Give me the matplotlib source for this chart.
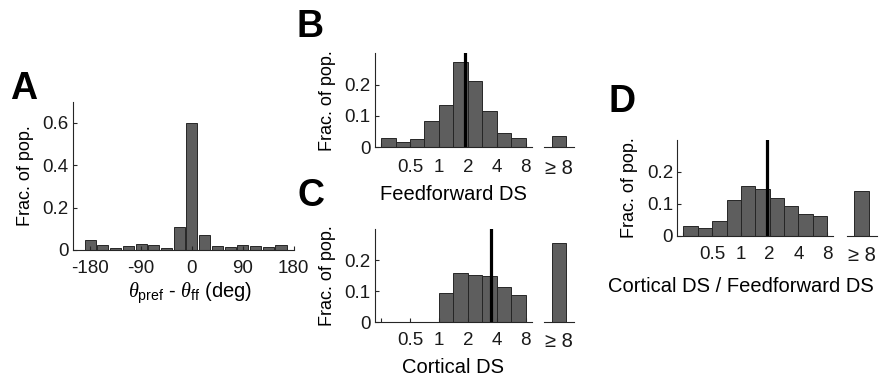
import numpy as np
import matplotlib
matplotlib.use("Agg")
import matplotlib.pyplot as plt

plt.rcParams['font.family'] = ['Liberation Sans', 'DejaVu Sans']
plt.rcParams['axes.unicode_minus'] = False
plt.rcParams['mathtext.fontset'] = 'custom'
plt.rcParams['mathtext.it'] = 'Liberation Serif:italic'
plt.rcParams['mathtext.rm'] = 'Liberation Sans'

# --- данные ---
# A: разница предпочитаемых направлений, 16 бинов по 22.5 град
theta_centers = [-180, -157.5, -135, -112.5, -90, -67.5, -45, -22.5,
                 0, 22.5, 45, 67.5, 90, 112.5, 135, 157.5]
theta_frac = [0.048, 0.022, 0.008, 0.017, 0.029, 0.023, 0.011, 0.110,
              0.600, 0.072, 0.020, 0.012, 0.025, 0.020, 0.015, 0.022]

# лог-бины (по основанию 2, шаг 0.5) от 0.25 до 8
ds_bin_lo = [0.25, 0.354, 0.5, 0.707, 1, 1.414, 2, 2.828, 4, 5.657]

ff_frac = [0.030, 0.016, 0.027, 0.083, 0.136, 0.273, 0.210, 0.114, 0.046, 0.030]
ff_over8 = 0.034
ff_median = 1.86

cort_frac = [0, 0, 0, 0, 0.094, 0.160, 0.152, 0.149, 0.113, 0.089]
cort_over8 = 0.255
cort_median = 3.46

ratio_frac = [0.031, 0.025, 0.047, 0.112, 0.155, 0.148, 0.118, 0.095, 0.069, 0.061]
ratio_over8 = 0.142
ratio_median = 1.89

ds_ticks = [0.25, 0.5, 1, 2, 4, 8]
ds_tick_labels = ['', '0.5', '1', '2', '4', '8']

# --- стиль ---
W, H = 885, 380
FACE = '#5e5e5e'
EDGE = '#262626'
FS_TICK = 13.5
FS_YLAB = 13
FS_XLAB = 14.5


def px_rect(left, right, top, bottom):
    # перевод пиксельных границ в координаты фигуры
    return [left / W, (H - bottom) / H, (right - left) / W, (bottom - top) / H]


def style_axes(ax):
    for s in ('top', 'right'):
        ax.spines[s].set_visible(False)
    for s in ('left', 'bottom'):
        ax.spines[s].set_color(EDGE)
        ax.spines[s].set_linewidth(0.8)
    ax.tick_params(direction='in', length=3, width=0.8, color=EDGE,
                   labelsize=FS_TICK, labelcolor='#1a1a1a')
    ax.tick_params(axis='y', pad=3)


def ds_panel(fig, main_rect, over_rect, frac, over8, median, xlabel, xlab_pos, xpad):
    ax = fig.add_axes(main_rect)
    style_axes(ax)
    centers = np.log2(ds_bin_lo) + 0.25
    ax.bar(centers, frac, width=0.5, color=FACE, edgecolor=EDGE, linewidth=0.7)
    ax.axvline(np.log2(median), color='black', lw=2.3)
    ax.set_xlim(-2.21, 3.21)
    ax.set_ylim(0, 0.3)
    ax.set_yticks([0, 0.1, 0.2])
    ax.set_yticklabels(['0', '0.1', '0.2'])
    ax.set_xticks(np.log2(ds_ticks))
    ax.set_xticklabels(ds_tick_labels)
    ax.tick_params(axis='x', pad=xpad)
    ax.set_ylabel('Frac. of pop.', fontsize=FS_YLAB)
    ax.yaxis.set_label_coords(-0.25, 0.5)
    ax.set_xlabel(xlabel, fontsize=FS_XLAB)
    ax.xaxis.set_label_coords(*xlab_pos)

    ax2 = fig.add_axes(over_rect)
    for s in ('top', 'right', 'left'):
        ax2.spines[s].set_visible(False)
    ax2.spines['bottom'].set_color(EDGE)
    ax2.spines['bottom'].set_linewidth(0.8)
    ax2.bar([0], [over8], width=0.5, color=FACE, edgecolor=EDGE, linewidth=0.7)
    ax2.set_xlim(-0.52, 0.52)
    ax2.set_ylim(0, 0.3)
    ax2.set_yticks([])
    ax2.set_xticks([0])
    ax2.set_xticklabels(['≥ 8'], fontsize=FS_TICK + 1, color='#1a1a1a')
    ax2.tick_params(axis='x', length=0, pad=xpad)
    return ax


fig = plt.figure(figsize=(W / 100, H / 100), dpi=100)

# панель A
axA = fig.add_axes(px_rect(72.7, 294, 101.7, 250))
style_axes(axA)
axA.bar(theta_centers, theta_frac, width=19.5, color=FACE, edgecolor=EDGE, linewidth=0.7)
axA.set_xlim(-211, 180.5)
axA.set_ylim(0, 0.7)
axA.set_xticks([-180, -90, 0, 90, 180])
axA.set_yticks([0, 0.2, 0.4, 0.6])
axA.set_yticklabels(['0', '0.2', '0.4', '0.6'])
axA.tick_params(axis='x', pad=7)
axA.set_ylabel('Frac. of pop.', fontsize=FS_YLAB)
axA.yaxis.set_label_coords(-0.175, 0.5)
axA.set_xlabel(r'$\mathit{\theta}_{\mathrm{pref}}$ - $\mathit{\theta}_{\mathrm{ff}}$ (deg)',
               fontsize=FS_XLAB)
axA.xaxis.set_label_coords(0.53, -0.21)

# панели B, C, D
ds_panel(fig, px_rect(375, 531.7, 53.3, 147), px_rect(544, 574.3, 53.3, 147),
         ff_frac, ff_over8, ff_median, 'Feedforward DS', (0.5, -0.41), 9)
ds_panel(fig, px_rect(375, 531.7, 229.3, 322.3), px_rect(544, 574.3, 229.3, 322.3),
         cort_frac, cort_over8, cort_median, 'Cortical DS', (0.5, -0.38), 7)
ds_panel(fig, px_rect(677.3, 833.3, 140, 236), px_rect(846.7, 876.7, 140, 236),
         ratio_frac, ratio_over8, ratio_median, 'Cortical DS / Feedforward DS',
         (0.41, -0.43), 7)

# буквы панелей
for letter, (x, y) in {'A': (24, 89), 'B': (310, 27), 'C': (311, 196), 'D': (622, 102)}.items():
    fig.text(x / W, (H - y) / H, letter, fontsize=27, fontweight='bold',
             ha='center', va='center')

fig.savefig('out.png', dpi=100)
